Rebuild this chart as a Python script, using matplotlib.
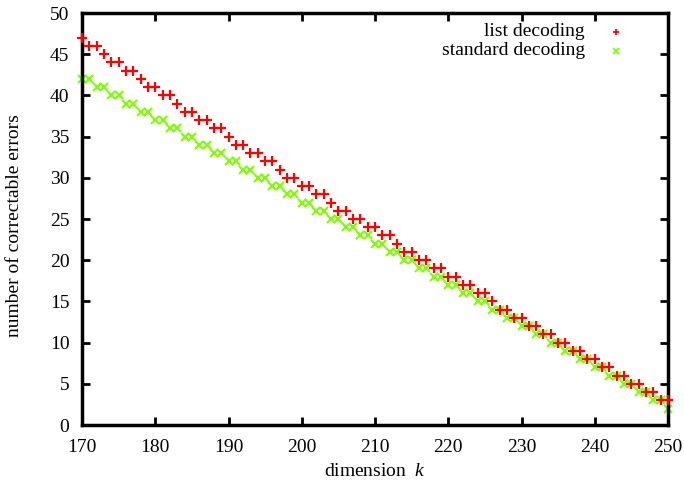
import matplotlib
matplotlib.use("Agg")
import matplotlib.pyplot as plt

# === DATA ===
k = list(range(170, 251))
list_decoding = [47, 46, 46, 45, 44, 44, 43, 43, 42, 41,
                 41, 40, 40, 39, 38, 38, 37, 37, 36, 36,
                 35, 34, 34, 33, 33, 32, 32, 31, 30, 30,
                 29, 29, 28, 28, 27, 26, 26, 25, 25, 24,
                 24, 23, 23, 22, 21, 21, 20, 20, 19, 19,
                 18, 18, 17, 17, 16, 16, 15, 14, 14, 13,
                 13, 12, 12, 11, 11, 10, 10, 9, 9, 8,
                 8, 7, 7, 6, 6, 5, 5, 4, 4, 3,
                 3]
standard_decoding = [42, 42, 41, 41, 40, 40, 39, 39, 38, 38,
                     37, 37, 36, 36, 35, 35, 34, 34, 33, 33,
                     32, 32, 31, 31, 30, 30, 29, 29, 28, 28,
                     27, 27, 26, 26, 25, 25, 24, 24, 23, 23,
                     22, 22, 21, 21, 20, 20, 19, 19, 18, 18,
                     17, 17, 16, 16, 15, 15, 14, 14, 13, 13,
                     12, 12, 11, 11, 10, 10, 9, 9, 8, 8,
                     7, 7, 6, 6, 5, 5, 4, 4, 3, 3,
                     2]
xticks = list(range(170, 251, 10))
yticks = list(range(0, 51, 5))

# === STYLE ===
plt.rcParams["font.family"] = ["Liberation Serif", "DejaVu Serif"]
plt.rcParams["mathtext.fontset"] = "custom"
plt.rcParams["mathtext.it"] = "Liberation Serif:italic"

RED = "#ff0000"
GREEN = "#7fff00"

fig = plt.figure(figsize=(6.84, 4.84), dpi=100)
ax = fig.add_axes([82 / 684, 1 - 425 / 484, (668 - 82) / 684, (425 - 13) / 484])

ax.plot(k, list_decoding, linestyle="none", marker="+", color=RED,
        markersize=6.5, markeredgewidth=1.6, clip_on=False, zorder=3)
ax.plot(k, standard_decoding, linestyle="none", marker="x", color=GREEN,
        markersize=5.5, markeredgewidth=1.5, clip_on=False, zorder=2)

ax.set_xlim(170, 250)
ax.set_ylim(0, 50)
ax.set_xticks(xticks)
ax.set_yticks(yticks)
ax.tick_params(direction="in", length=6, width=2, labelsize=14,
               top=True, right=True)
ax.tick_params(axis="x", pad=10)
ax.tick_params(axis="y", pad=9)
for s in ax.spines.values():
    s.set_linewidth(2.5)

ax.set_xlabel(r"dimension  $k$", fontsize=14)
ax.set_ylabel("number of correctable errors", fontsize=14)
ax.xaxis.set_label_coords(0.5, -0.092)
ax.yaxis.set_label_coords(-0.1, 0.485)

# gnuplot-style key: right-aligned text, sample to the right
ax.text(0.858, 0.955, "list decoding", transform=ax.transAxes,
        ha="right", va="center", fontsize=14)
ax.text(0.858, 0.908, "standard decoding", transform=ax.transAxes,
        ha="right", va="center", fontsize=14)
ax.plot([0.911], [0.955], transform=ax.transAxes, marker="+", color=RED,
        markersize=5, markeredgewidth=1.3, linestyle="none")
ax.plot([0.911], [0.908], transform=ax.transAxes, marker="x", color=GREEN,
        markersize=4, markeredgewidth=1.3, linestyle="none")

fig.savefig("out.png", dpi=100)
